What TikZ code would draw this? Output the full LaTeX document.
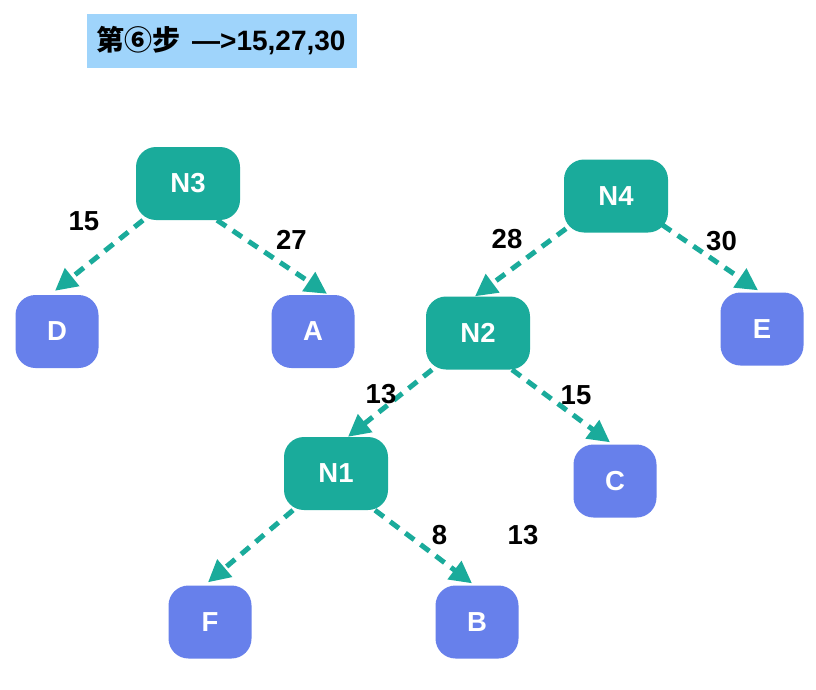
\documentclass[tikz,border=0pt]{standalone}
\usepackage{fontspec}
\setmainfont{Liberation Sans}
\newfontfamily\cjk{Noto Sans CJK SC}
\usetikzlibrary{arrows.meta}
\definecolor{teal}{RGB}{26,171,155}
\definecolor{nblue}{RGB}{103,128,235}
\definecolor{tblue}{RGB}{159,212,251}
\tikzset{
  inner/.style={fill=teal, rounded corners=20pt, minimum width=104pt, minimum height=73pt, text=white, font=\fontsize{27.5}{30}\selectfont\bfseries, inner sep=0pt},
  leaf/.style={fill=nblue, rounded corners=20pt, minimum width=83pt, minimum height=73pt, text=white, font=\fontsize{27.5}{30}\selectfont\bfseries, inner sep=0pt},
  lbl/.style={font=\fontsize{27.5}{30}\selectfont\bfseries, text=black, inner sep=0pt},
  conn/.style={draw=teal, line width=5pt, dash pattern=on 11pt off 8pt, -{Triangle[length=22pt,width=22pt]}}
}
\begin{document}
\begin{tikzpicture}[x=1pt,y=-1pt]
\useasboundingbox (0,0) rectangle (816,690);
\fill[white] (0,0) rectangle (816,690);
\node[fill=tblue, minimum width=270pt, minimum height=54pt, inner sep=0pt] (titlebox) at (222,41) {};
\node[inner sep=0pt, font=\fontsize{28}{32}\selectfont\bfseries] (title) at (221,41) {{\cjk\bfseries 第⑥步}\hspace{4pt} —>15,27,30};
\node[inner] (n3) at (188,183.5) {N3};
\node[inner] (n4) at (616,196) {N4};
\node[inner] (n2) at (478,333) {N2};
\node[inner] (n1) at (336,473.5) {N1};
\node[leaf] (d) at (57,331.5) {D};
\node[leaf] (a) at (313,331.5) {A};
\node[leaf] (e) at (762,329) {E};
\node[leaf] (c) at (615,481) {C};
\node[leaf] (f) at (210,622) {F};
\node[leaf] (b) at (477,622) {B};
\draw[conn] ([xshift=-45pt]n3.south) -- ([shift={(-2,-4)}]d.north);
\draw[conn] ([xshift=29pt]n3.south) -- ([shift={(14,-1)}]a.north);
\draw[conn] ([shift={(-50,-4)}]n4.south) -- ([shift={(-3,0)}]n2.north);
\draw[conn] ([shift={(46,-8)}]n4.south) -- ([shift={(-4,-2)}]e.north);
\draw[conn] ([shift={(-46,0)}]n2.south) -- ([shift={(12,0)}]n1.north);
\draw[conn] ([shift={(34,0)}]n2.south) -- ([shift={(-5,-2)}]c.north);
\draw[conn] ([shift={(-43,0)}]n1.south) -- ([shift={(-2,-3)}]f.north);
\draw[conn] ([shift={(39,0)}]n1.south) -- ([shift={(-5,-2)}]b.north);
\node[lbl] (l1) at (84,221) {15};
\node[lbl] (l2) at (291.5,239.5) {27};
\node[lbl] (l3) at (507,239.5) {28};
\node[lbl] (l4) at (721.5,241.5) {30};
\node[lbl] (l5) at (381,394.5) {13};
\node[lbl] (l6) at (576,395) {15};
\node[lbl] (l7) at (439.5,535) {8};
\node[lbl] (l8) at (523,535) {13};
\end{tikzpicture}
\end{document}
